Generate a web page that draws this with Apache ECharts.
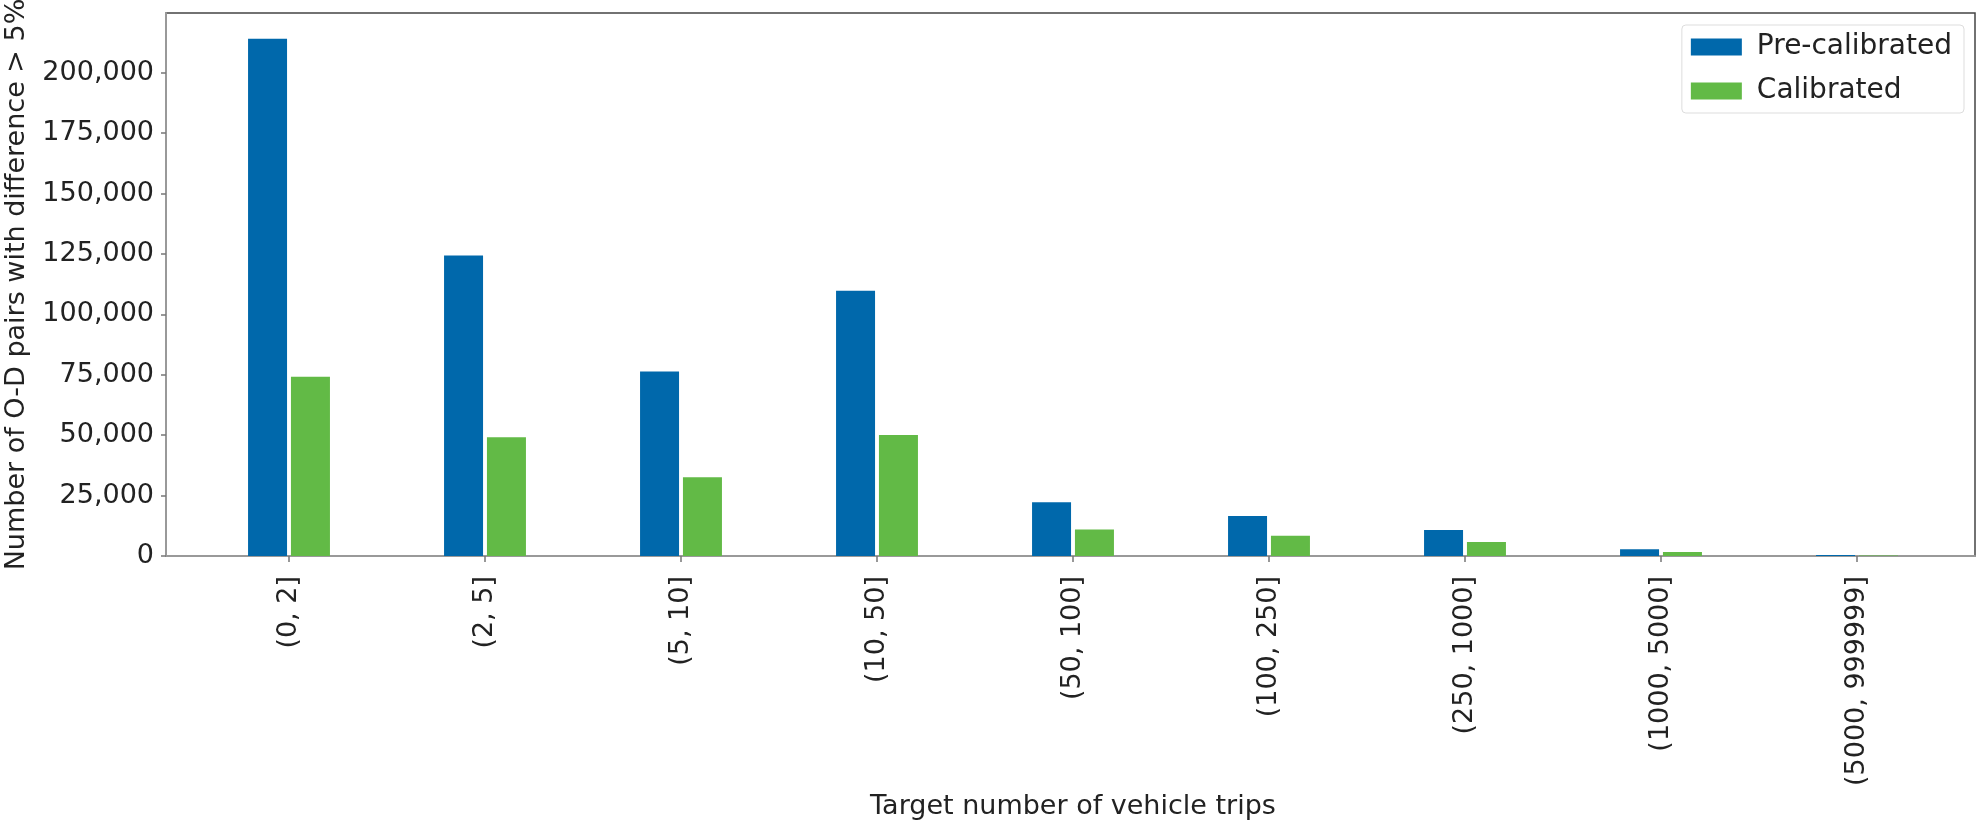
<!DOCTYPE html>
<html>
<head>
<meta charset="utf-8">
<title>O-D pairs with difference above 5%</title>
<script src="https://cdn.jsdelivr.net/npm/echarts@6/dist/echarts.min.js"></script>
<style>
  html, body { margin: 0; padding: 0; background: #ffffff; }
  #chart { width: 1980px; height: 820px; }
</style>
</head>
<body>
<div id="chart"></div>
<script>
// Trip-count bins (target number of vehicle trips)
const categories = ['(0, 2]', '(2, 5]', '(5, 10]', '(10, 50]', '(50, 100]', '(100, 250]', '(250, 1000]', '(1000, 5000]', '(5000, 999999]'];

// Number of O-D pairs whose difference exceeds 5%
const preCalibrated = [214000, 124300, 76300, 109800, 22200, 16600, 10800, 2800, 400];
const calibrated = [74200, 49100, 32600, 50100, 11000, 8400, 5800, 1700, 250];

// Y-axis ticks
const yTicks = [0, 25000, 50000, 75000, 100000, 125000, 150000, 175000, 200000];

const seriesNames = ['Pre-calibrated', 'Calibrated'];
const BLUE = '#0068ab';
const GREEN = '#62ba46';
const FONT = 'DejaVu Sans';

const chart = echarts.init(document.getElementById('chart'), null, { renderer: 'canvas' });

chart.setOption({
  backgroundColor: '#ffffff',
  animation: false,
  textStyle: { fontFamily: FONT },
  legend: {
    orient: 'vertical',
    right: 16,
    top: 25,
    data: seriesNames,
    icon: 'rect',
    itemWidth: 51,
    itemHeight: 17,
    itemGap: 16,
    padding: [8, 12, 8, 9],
    borderColor: '#dddddd',
    borderWidth: 1,
    borderRadius: 4,
    textStyle: { fontFamily: FONT, fontSize: 28, color: '#222222', padding: [0, 0, 0, 10] }
  },
  grid: [
    // bar area
    { left: 191, right: 25, top: 13, bottom: 264, containLabel: false, outerBoundsMode: 'none' },
    // frame around the plotting area
    { left: 166, right: 5, top: 13, bottom: 264, show: true, borderColor: '#444444', borderWidth: 1.5, backgroundColor: 'transparent', z: 0, outerBoundsMode: 'none' }
  ],
  xAxis: [
    {
      gridIndex: 0,
      type: 'category',
      data: categories,
      axisLine: { show: false },
      axisTick: { show: true, alignWithLabel: true, length: 6, lineStyle: { color: '#777777', width: 1.5 } },
      axisLabel: { rotate: 90, margin: 20, fontSize: 27, color: '#222222', fontFamily: FONT },
      name: 'Target number of vehicle trips',
      nameLocation: 'middle',
      nameGap: 230,
      nameTextStyle: { fontSize: 27, color: '#222222', fontFamily: FONT }
    },
    {
      gridIndex: 1,
      type: 'value',
      min: 0, max: 1,
      axisLine: { show: true, onZero: false, lineStyle: { color: '#999999', width: 2 } },
      axisTick: { show: false },
      axisLabel: { show: false },
      splitLine: { show: false }
    }
  ],
  yAxis: [
    {
      gridIndex: 0,
      type: 'value',
      min: 0,
      max: 224700,
      interval: 25000,
      offset: 25,
      axisLine: { show: false },
      axisTick: { show: true, length: 5, customValues: yTicks, lineStyle: { color: '#777777', width: 1.5 } },
      axisLabel: {
        margin: 12,
        fontSize: 27,
        color: '#222222',
        fontFamily: FONT,
        customValues: yTicks,
        formatter: v => v.toLocaleString('en-US')
      },
      splitLine: { show: false },
      name: 'Number of O-D pairs with difference > 5%',
      nameLocation: 'middle',
      nameGap: 136,
      nameTextStyle: { fontSize: 27, color: '#222222', fontFamily: FONT }
    },
    {
      gridIndex: 1,
      type: 'value',
      min: 0, max: 1,
      axisLine: { show: true, onZero: false, lineStyle: { color: '#999999', width: 2 } },
      axisTick: { show: false },
      axisLabel: { show: false },
      splitLine: { show: false }
    }
  ],
  series: [
    {
      name: seriesNames[0],
      type: 'bar',
      xAxisIndex: 0,
      yAxisIndex: 0,
      data: preCalibrated,
      barWidth: 39,
      barGap: '10%',
      itemStyle: { color: BLUE },
      z: 3
    },
    {
      name: seriesNames[1],
      type: 'bar',
      xAxisIndex: 0,
      yAxisIndex: 0,
      data: calibrated,
      barWidth: 39,
      barGap: '10%',
      itemStyle: { color: GREEN },
      z: 3
    }
  ]
});
</script>
</body>
</html>
